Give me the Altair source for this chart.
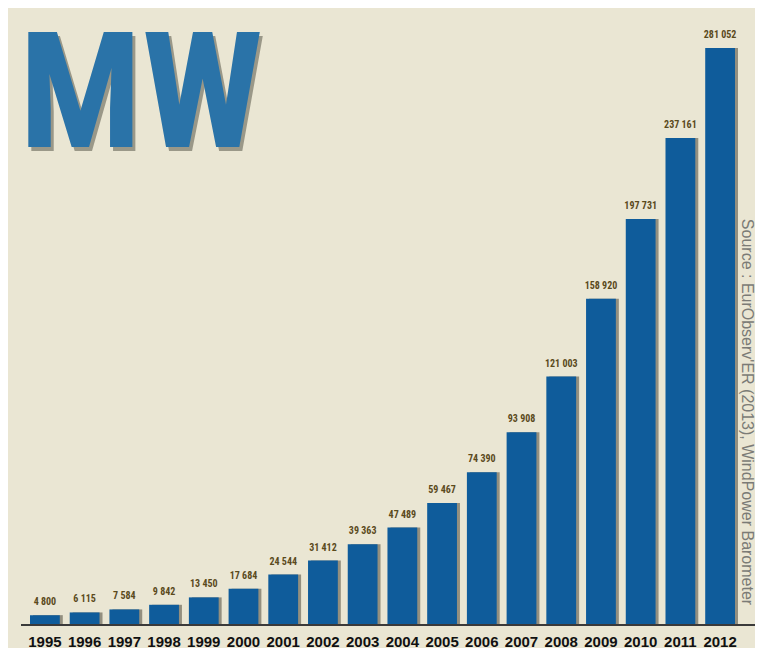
import altair as alt
import pandas as pd

years = [str(y) for y in range(1995, 2013)]
values = [4800, 6115, 7584, 9842, 13450, 17684, 24544, 31412, 39363, 47489,
          59467, 74390, 93908, 121003, 158920, 197731, 237161, 281052]
labels = [f"{v:,}".replace(",", " ") for v in values]

title_text = "MW"
source_text = "Source : EurObserv'ER (2013), WindPower Barometer"

df = pd.DataFrame({"year": years, "mw": values, "label": labels})

BG = "#EAE6D3"
BAR = "#0F5C9B"
COND = "Noto Sans Condensed, Roboto Condensed, Open Sans Condensed, Liberation Sans"

x_enc = alt.X(
    "year:N",
    sort=years,
    scale=alt.Scale(range=[22, 727], paddingInner=0.25, paddingOuter=0),
    axis=alt.Axis(
        title=None, labelAngle=0, domain=False, ticks=False, grid=False,
        labelFont="Liberation Sans", labelFontWeight="bold", labelFontSize=15,
        labelColor="#111111", labelPadding=9,
    ),
)
y_enc = alt.Y("mw:Q", scale=alt.Scale(domain=[0, 300536]), axis=None)

base = alt.Chart(df)

shadow = base.mark_bar(color="#2a2618", opacity=0.45, xOffset=3).encode(x=x_enc, y=y_enc)
bars = base.mark_bar(color=BAR).encode(x=x_enc, y=y_enc)
vlabels = base.mark_text(
    baseline="alphabetic", dy=-10, font=COND,
    fontSize=10, fontWeight="bold", color="#5a4a1c",
).encode(x=x_enc, y=y_enc, text="label:N")

one = pd.DataFrame({"k": [0]})
rule = alt.Chart(one).mark_rule(color="#3a3a3a", strokeWidth=2).encode(
    x=alt.value(13), x2=alt.value(747), y=alt.value(617)
)

mw_shadow = alt.Chart(one).mark_text(
    align="left", baseline="alphabetic", font=COND,
    fontWeight="bold", fontSize=162, color="#3b3a2e", opacity=0.45,
).encode(x=alt.value(14), y=alt.value(143), text=alt.value(title_text))
mw = alt.Chart(one).mark_text(
    align="left", baseline="alphabetic", font=COND,
    fontWeight="bold", fontSize=162, color="#2A73A8",
).encode(x=alt.value(11), y=alt.value(139), text=alt.value(title_text))

source = alt.Chart(one).mark_text(
    align="center", baseline="middle", angle=90, font="Liberation Sans",
    fontSize=16, color="#7b7b76",
).encode(x=alt.value(739), y=alt.value(404), text=alt.value(source_text))

chart = alt.layer(shadow, bars, vlabels, rule, mw_shadow, mw, source).properties(
    width=747, height=617,
    autosize=alt.AutoSizeParams(type="none"),
    padding={"left": 0, "top": 0, "right": 0, "bottom": 23},
    background=BG,
).configure_view(strokeWidth=0)

chart.save("out.html", embed_options={"renderer": "svg", "actions": False})
